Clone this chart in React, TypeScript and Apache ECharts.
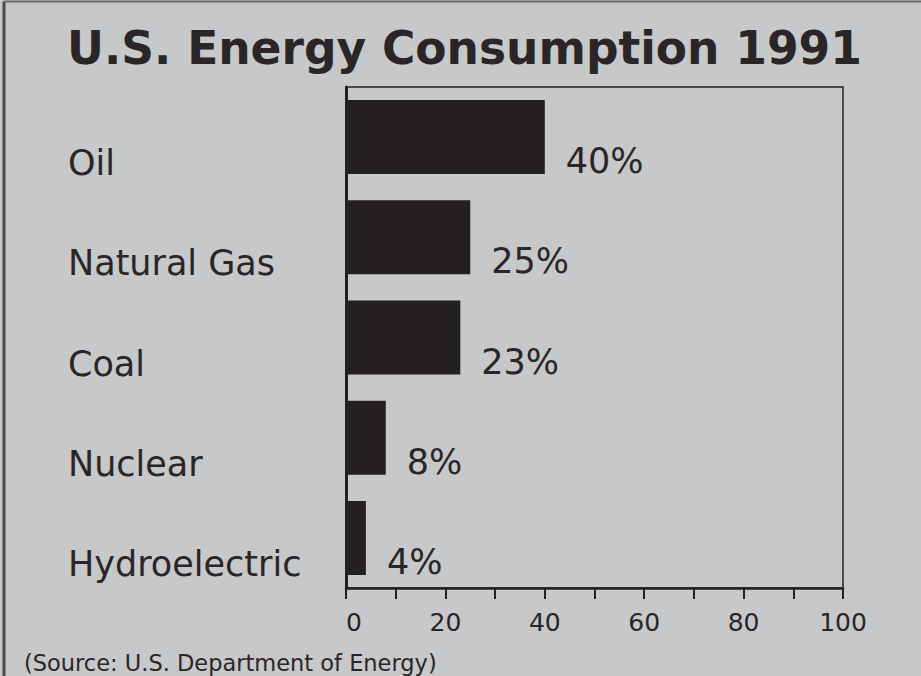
import React, { useEffect, useRef } from "react";
import * as echarts from "echarts";

const categories = ["Oil", "Natural Gas", "Coal", "Nuclear", "Hydroelectric"];
const shares = [40, 25, 23, 8, 4];
const xTickLabels = [0, 20, 40, 60, 80, 100];
const titleText = "U.S. Energy Consumption 1991";
const sourceText = "(Source: U.S. Department of Energy)";

const INK = "#241f21";
const FONT = "'DejaVu Sans', sans-serif";

export default function App() {
  const ref = useRef<HTMLDivElement>(null);
  useEffect(() => {
    if (!ref.current) return;
    const chart = echarts.init(ref.current, undefined, { renderer: "svg" });
    chart.setOption({
      animation: false,
      backgroundColor: "#c7c8ca",
      textStyle: { fontFamily: FONT },
      title: [
        {
          text: titleText,
          left: 62,
          top: 20,
          textStyle: { fontFamily: FONT, fontSize: 45.5, fontWeight: "bold", color: "#2a2527" },
        },
        {
          text: sourceText,
          left: 19,
          top: 646,
          textStyle: { fontFamily: FONT, fontSize: 22.5, fontWeight: "normal", color: "#2a2527" },
        },
      ],
      graphic: [
        { type: "line", shape: { x1: 4, y1: 676, x2: 4, y2: 1.5 }, style: { stroke: "#4a4a4c", lineWidth: 3 } },
        { type: "line", shape: { x1: 4, y1: 1.5, x2: 921, y2: 1.5 }, style: { stroke: "#6a6a6c", lineWidth: 2 } },
      ],
      grid: {
        left: 346,
        right: 78,
        top: 87,
        bottom: 88,
        show: true,
        borderColor: INK,
        borderWidth: 1.5,
        backgroundColor: "transparent",
      },
      xAxis: {
        type: "value",
        min: 0,
        max: 100,
        interval: 10,
        splitLine: { show: false },
        axisLine: { show: true, lineStyle: { color: INK, width: 2.5 } },
        axisTick: { show: true, length: 11, inside: false, lineStyle: { color: INK, width: 2 } },
        axisLabel: {
          margin: 22,
          fontFamily: FONT,
          fontSize: 25,
          color: "#2a2527",
          alignMinLabel: "left",
          formatter: (v: number) => (xTickLabels.indexOf(v) >= 0 ? String(v) : ""),
        },
      },
      yAxis: {
        type: "category",
        data: categories,
        inverse: true,
        axisLine: { show: true, lineStyle: { color: INK, width: 3 } },
        axisTick: { show: false },
        axisLabel: {
          margin: 278,
          align: "left",
          verticalAlign: "top",
          lineHeight: 52,
          fontFamily: FONT,
          fontSize: 35,
          color: "#2a2527",
        },
      },
      series: [
        {
          type: "bar",
          data: shares,
          barWidth: 74,
          itemStyle: { color: INK },
          label: {
            show: true,
            position: "right",
            distance: 21,
            offset: [0, 24],
            formatter: "{c}%",
            fontFamily: FONT,
            fontSize: 35,
            color: "#2a2527",
          },
        },
      ],
    });
    return () => chart.dispose();
  }, []);
  return (
    <div
      ref={ref}
      style={{ position: "fixed", left: 0, top: 0, width: 921, height: 676 }}
    />
  );
}
